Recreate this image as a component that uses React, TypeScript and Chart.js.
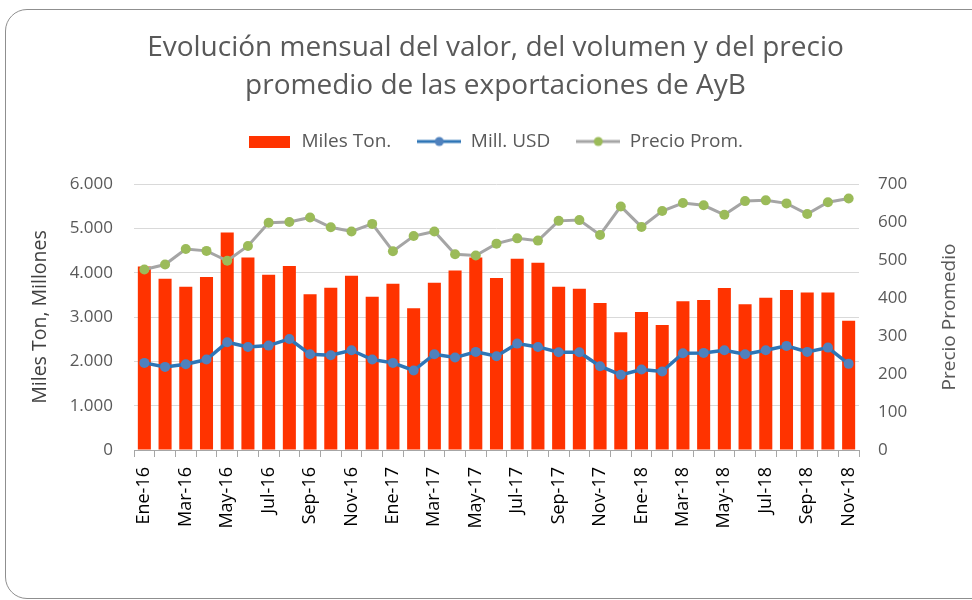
import React, { useEffect, useRef } from 'react';
import { Chart, registerables } from 'chart.js';

Chart.register(...registerables);

const FONT = "'Open Sans', sans-serif";

const titleLines = [
  'Evolución mensual del valor, del volumen y del precio',
  'promedio de las exportaciones de AyB',
];

const months = [
  'Ene-16', 'Feb-16', 'Mar-16', 'Abr-16', 'May-16', 'Jun-16', 'Jul-16', 'Ago-16', 'Sep-16', 'Oct-16', 'Nov-16', 'Dic-16',
  'Ene-17', 'Feb-17', 'Mar-17', 'Abr-17', 'May-17', 'Jun-17', 'Jul-17', 'Ago-17', 'Sep-17', 'Oct-17', 'Nov-17', 'Dic-17',
  'Ene-18', 'Feb-18', 'Mar-18', 'Abr-18', 'May-18', 'Jun-18', 'Jul-18', 'Ago-18', 'Sep-18', 'Oct-18', 'Nov-18',
];

const milesTon = [
  4140, 3860, 3680, 3900, 4906, 4343, 3953, 4148, 3511, 3660, 3930, 3458,
  3750, 3195, 3773, 4050, 4343, 3878, 4313, 4223, 3683, 3638, 3315, 2655,
  3113, 2820, 3353, 3383, 3653, 3285, 3435, 3608, 3555, 3555, 2918,
];

const millUsd = [
  1965, 1875, 1935, 2040, 2430, 2325, 2355, 2505, 2160, 2138, 2250, 2040,
  1965, 1793, 2160, 2085, 2213, 2115, 2400, 2325, 2205, 2205, 1890, 1695,
  1815, 1770, 2183, 2190, 2250, 2160, 2250, 2348, 2213, 2310, 1943,
];

const precioProm = [
  475, 488, 529, 524, 498, 537, 598, 600, 612, 586, 575, 595,
  523, 563, 575, 515, 512, 543, 557, 551, 603, 605, 566, 641,
  587, 629, 650, 644, 619, 655, 657, 649, 621, 652, 662,
];

const seriesNames = ['Miles Ton.', 'Mill. USD', 'Precio Prom.'];
const leftTitle = 'Miles Ton, Millones';
const rightTitle = 'Precio Promedio';

const RED = '#ff3300';
const BLUE_LINE = '#2e75b6';
const BLUE_PT = '#4f81bd';
const GRAY_LINE = '#a5a5a5';
const GREEN_PT = '#9bbb59';
const TEXT = '#595959';

function boxImage(color: string) {
  const c = document.createElement('canvas');
  c.width = 41;
  c.height = 12;
  const g = c.getContext('2d')!;
  g.fillStyle = color;
  g.fillRect(0, 0, 41, 12);
  return c;
}

function lineImage(lineColor: string, ptColor: string) {
  const c = document.createElement('canvas');
  c.width = 44;
  c.height = 12;
  const g = c.getContext('2d')!;
  g.strokeStyle = lineColor;
  g.lineWidth = 3;
  g.beginPath();
  g.moveTo(0, 6);
  g.lineTo(44, 6);
  g.stroke();
  g.fillStyle = ptColor;
  g.beginPath();
  g.arc(22, 6, 4.5, 0, Math.PI * 2);
  g.fill();
  return c;
}

const fmt = (v: number) => String(v).replace(/\B(?=(\d{3})+(?!\d))/g, '.');

const rightTitlePlugin = {
  id: 'rightTitle',
  afterDraw(chart: any) {
    const c = chart.ctx;
    const area = chart.chartArea;
    const s = chart.scales.y1;
    c.save();
    c.translate(s.right - 12, (area.top + area.bottom) / 2);
    c.rotate(-Math.PI / 2);
    c.font = `19px ${FONT}`;
    c.fillStyle = TEXT;
    c.textAlign = 'center';
    c.textBaseline = 'middle';
    c.fillText(rightTitle, 0, 0);
    c.restore();
  },
};

export default function App() {
  const ref = useRef<HTMLCanvasElement>(null);

  useEffect(() => {
    document.body.style.margin = '0';
    const legendImgs = [boxImage(RED), lineImage(BLUE_LINE, BLUE_PT), lineImage(GRAY_LINE, GREEN_PT)];
    const chart = new Chart(ref.current!, {
      type: 'bar',
      data: {
        labels: months,
        datasets: [
          {
            type: 'line',
            label: seriesNames[2],
            data: precioProm,
            yAxisID: 'y1',
            borderColor: GRAY_LINE,
            borderWidth: 3,
            pointRadius: 5,
            pointBackgroundColor: GREEN_PT,
            pointBorderColor: GREEN_PT,
            pointBorderWidth: 0,
            tension: 0,
            order: 1,
          } as any,
          {
            type: 'line',
            label: seriesNames[1],
            data: millUsd,
            yAxisID: 'y',
            borderColor: BLUE_LINE,
            borderWidth: 3.5,
            pointRadius: 5,
            pointBackgroundColor: BLUE_PT,
            pointBorderColor: BLUE_PT,
            pointBorderWidth: 0,
            tension: 0,
            order: 2,
          },
          {
            type: 'bar',
            label: seriesNames[0],
            data: milesTon,
            yAxisID: 'y',
            backgroundColor: RED,
            barPercentage: 0.63,
            categoryPercentage: 1,
            order: 3,
          },
        ],
      },
      options: {
        responsive: false,
        animation: false,
        devicePixelRatio: 1,
        layout: { padding: { left: 29, right: 10, top: 0, bottom: 0 } },
        plugins: {
          tooltip: { enabled: false },
          title: {
            display: true,
            text: titleLines,
            color: TEXT,
            font: { family: FONT, size: 28, weight: 'normal', lineHeight: '38px' },
            padding: { top: 29, bottom: 1 },
          },
          legend: {
            display: true,
            position: 'top',
            weight: 1800,
            labels: {
              usePointStyle: true,
              pointStyleWidth: 44,
              padding: 26,
              color: TEXT,
              font: { family: FONT, size: 19 },
              generateLabels: () =>
                seriesNames.map((t, i) => ({
                  text: t,
                  fontColor: TEXT,
                  pointStyle: legendImgs[i],
                  fillStyle: 'transparent',
                  strokeStyle: 'transparent',
                  lineWidth: 0,
                  hidden: false,
                  datasetIndex: 2 - i,
                })),
            },
          } as any,
          subtitle: {
            display: true,
            text: ' ',
            font: { size: 4, lineHeight: 1 },
            padding: { top: 19, bottom: 0 },
          },
        },
        scales: {
          x: {
            type: 'category',
            offset: true,
            grid: {
              display: true,
              offset: true,
              drawOnChartArea: false,
              drawTicks: true,
              tickLength: 7,
              color: '#a6a6a6',
            },
            border: { display: true, color: '#a6a6a6', width: 1 },
            ticks: {
              autoSkip: false,
              maxRotation: 90,
              minRotation: 90,
              padding: 10,
              color: '#000000',
              font: { family: FONT, size: 18 },
              callback: (_v: any, i: number) => (i % 2 === 0 ? months[i] : ''),
            },
            afterFit: (s: any) => {
              s.height = 150;
            },
          },
          y: {
            position: 'left',
            min: 0,
            max: 6000,
            ticks: {
              stepSize: 1000,
              padding: 21,
              color: TEXT,
              font: { family: FONT, size: 17 },
              callback: (v: any) => fmt(Number(v)),
            },
            grid: { color: '#d9d9d9', drawTicks: false, lineWidth: 1 },
            border: { display: false },
            title: {
              display: true,
              text: leftTitle,
              color: '#404040',
              font: { family: FONT, size: 19.5 },
              padding: 0,
            },
            afterFit: (s: any) => {
              s.width = 105;
            },
          },
          y1: {
            position: 'right',
            min: 0,
            max: 700,
            ticks: {
              stepSize: 100,
              padding: 19,
              color: TEXT,
              font: { family: FONT, size: 17 },
            },
            grid: { drawOnChartArea: false, drawTicks: false },
            border: { display: false },
            afterFit: (s: any) => {
              s.width = 103;
            },
          },
        },
      },
      plugins: [rightTitlePlugin],
    });
    return () => chart.destroy();
  }, []);

  return (
    <div style={{ position: 'relative', width: 972, height: 600, overflow: 'hidden', background: '#ffffff' }}>
      <canvas ref={ref} width={972} height={600} style={{ display: 'block', width: 972, height: 600 }} />
      <div
        style={{
          position: 'absolute',
          left: 5,
          top: 9,
          width: 1000,
          height: 590,
          border: '1px solid #8f8f8f',
          borderRadius: 22,
          boxSizing: 'border-box',
          pointerEvents: 'none',
        }}
      />
    </div>
  );
}
